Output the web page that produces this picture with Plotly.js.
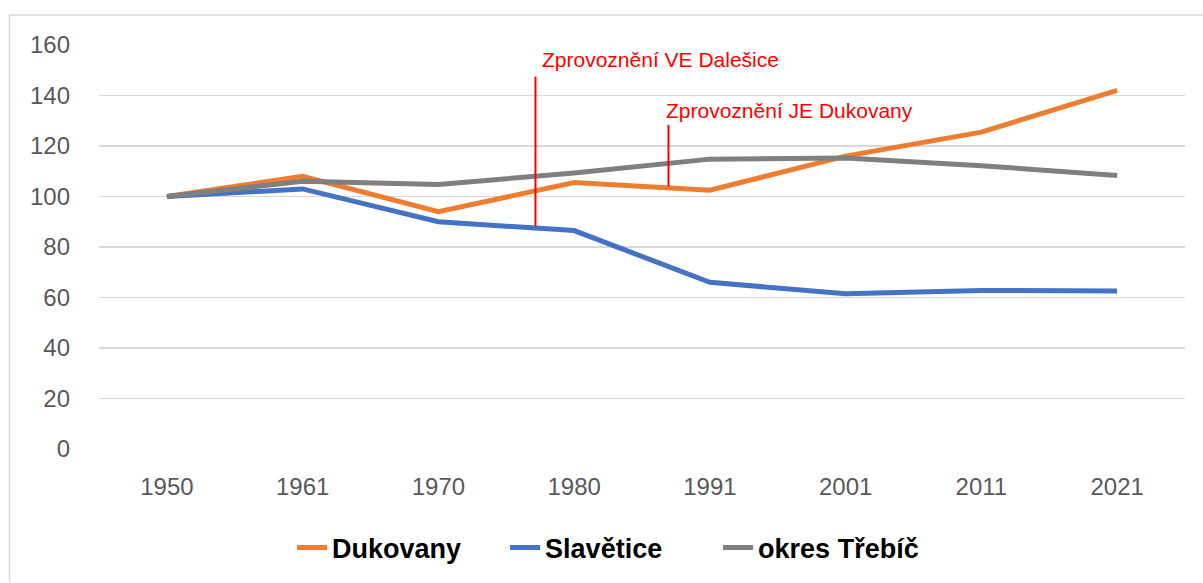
<!DOCTYPE html>
<html>
<head>
<meta charset="utf-8">
<script src="https://cdn.plot.ly/plotly-3.0.1.min.js"></script>
<style>html,body{margin:0;padding:0;background:#fff;}#chart{width:1203px;height:583px;}</style>
</head>
<body>
<div id="chart"></div>
<script>
// Data
const years = ["1950", "1961", "1970", "1980", "1991", "2001", "2011", "2021"];
const dukovany = [100, 108, 94, 105.5, 102.5, 116, 125.5, 142];
const slavetice = [100, 103, 90, 86.5, 66, 61.5, 62.8, 62.6];
const trebic = [100, 106, 104.8, 109.3, 114.8, 115.2, 112.2, 108.3];

const seriesNames = ["Dukovany", "Slavětice", "okres Třebíč"];
const seriesColors = ["#ED7D31", "#4472C4", "#7F7F7F"];

// Event markers (category-index position, line top, line bottom, label y)
const eventLabels = ["Zprovoznění VE Dalešice", "Zprovoznění JE Dukovany"];
const eventPos = [2.715, 3.695];
const eventTop = [147.5, 128.4];
const eventBottom = [88.2, 104];
const eventLabelY = [154.1, 133.9];

const series = [dukovany, slavetice, trebic];
const traces = series.map((vals, i) => ({
  type: "scatter",
  mode: "lines",
  x: years,
  y: vals,
  name: seriesNames[i],
  line: {color: seriesColors[i], width: 5},
  hoverinfo: "skip"
}));

const shapes = eventPos.map((p, i) => ({
  type: "line", xref: "x", yref: "y",
  x0: p, x1: p, y0: eventBottom[i], y1: eventTop[i],
  line: {color: "#FF0000", width: 2}
}));
// outer chart border (top and left edges visible)
shapes.push({type: "line", xref: "paper", yref: "paper", x0: -0.0824, x1: 1.02, y0: 1.074, y1: 1.074, line: {color: "#D9D9D9", width: 1.5}});
shapes.push({type: "line", xref: "paper", yref: "paper", x0: -0.0824, x1: -0.0824, y0: 1.074, y1: -0.33, line: {color: "#D9D9D9", width: 1.5}});

const labelShift = [5, -4];
const annotations = eventLabels.map((t, i) => ({
  text: t, xref: "x", yref: "y",
  x: eventPos[i], y: eventLabelY[i],
  xanchor: "left", yanchor: "middle", xshift: labelShift[i],
  showarrow: false,
  font: {family: "Liberation Sans, Arial, sans-serif", size: 21, color: "#FF0000"}
}));

const layout = {
  width: 1203, height: 583,
  margin: {l: 99, r: 18, t: 45, b: 133},
  paper_bgcolor: "#FFFFFF", plot_bgcolor: "#FFFFFF",
  font: {family: "Liberation Sans, Arial, sans-serif", color: "#595959"},
  showlegend: true,
  legend: {
    orientation: "h", x: 0.472, xanchor: "center", y: -0.242, yanchor: "middle",
    font: {family: "Liberation Sans, Arial, sans-serif", size: 27, color: "#000000", weight: "bold"},
    entrywidth: 168, entrywidthmode: "pixels", tracegroupgap: 0
  },
  xaxis: {
    type: "category",
    range: [-0.5, 7.5],
    showgrid: false, zeroline: false, showline: false,
    ticks: "", tickfont: {size: 24, color: "#595959"},
    ticklabelstandoff: 21
  },
  yaxis: {
    range: [0, 160], dtick: 20, tick0: 0,
    showgrid: true, gridcolor: "#D9D9D9", gridwidth: 1.5,
    zeroline: false, showline: false,
    ticks: "", tickfont: {size: 24, color: "#595959"},
    ticklabelstandoff: 28
  },
  shapes: shapes,
  annotations: annotations
};

Plotly.newPlot("chart", traces, layout, {displayModeBar: false, staticPlot: true});
</script>
</body>
</html>
